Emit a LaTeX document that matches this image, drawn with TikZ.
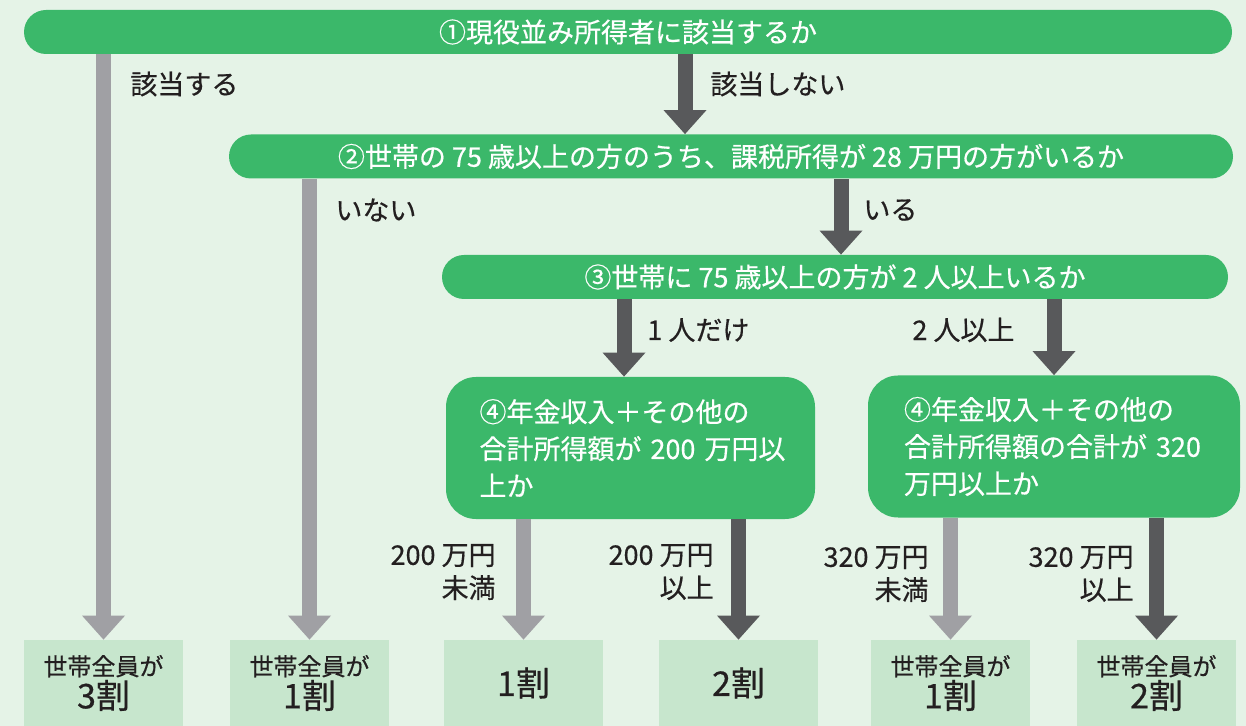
\documentclass[tikz,border=0pt]{standalone}
\usepackage{fontspec}
\setmainfont{Noto Sans CJK JP}[RawFeature={embolden=0.5}]
\usetikzlibrary{arrows.meta}
\definecolor{bg}{HTML}{E5F3E7}
\definecolor{barg}{HTML}{3BB86A}
\definecolor{resg}{HTML}{C7E6CD}
\definecolor{grayarr}{HTML}{A0A0A4}
\definecolor{darkarr}{HTML}{58595B}
\definecolor{ink}{HTML}{231F20}
\begin{document}
\begin{tikzpicture}[x=0.5pt,y=-0.5pt,
    font=\fontsize{13.5pt}{16.5pt}\selectfont, text=ink,
    bar/.style={fill=barg, text=white, rounded corners=11pt, minimum height=22pt, inner sep=0pt},
    qbox/.style={fill=barg, text=white, rounded corners=15pt, align=left, inner sep=0pt,
      minimum height=71pt, font=\fontsize{13.5pt}{18.5pt}\selectfont},
    res/.style={fill=resg, minimum width=79.5pt, minimum height=43pt, inner sep=0pt, align=center},
    lbl/.style={inner sep=0pt},
    garrow/.style={line width=7.5pt, draw=grayarr, -{Triangle[width=21.5pt,length=12pt,line width=0pt]}},
    darrow/.style={line width=7.5pt, draw=darkarr, -{Triangle[width=21.5pt,length=12pt,line width=0pt]}}]
  \useasboundingbox (0,0) rectangle (1246,726);
  \fill[bg] (0,0) rectangle (1246,726);
  % questions
  \node[bar, minimum width=604pt] (q1) at (628,32) {①現役並み所得者に該当するか};
  \node[bar, minimum width=502pt] (q2) at (731,156.5) {②世帯の 75 歳以上の方のうち、課税所得が 28 万円の方がいるか};
  \node[bar, minimum width=393pt] (q3) at (835,277) {③世帯に 75 歳以上の方が 2 人以上いるか};
  \node[qbox, minimum width=184.5pt, text width=151pt] (q4a) at (630.5,448) {④年金収入＋その他の\\合計所得額が~200~万円以\\上か};
  \node[qbox, minimum width=186pt, text width=150pt] (q4b) at (1054,446.5) {④年金収入＋その他の\\合計所得額の合計が~320\\万円以上か};
  % results
  \node[res] (r1) at (103.5,683) {{\fontsize{12pt}{16.5pt}\selectfont 世帯全員が}\\{\fontsize{17pt}{17pt}\selectfont 3割}};
  \node[res] (r2) at (309.5,683) {{\fontsize{12pt}{16.5pt}\selectfont 世帯全員が}\\{\fontsize{17pt}{17pt}\selectfont 1割}};
  \node[res] (r3) at (523.5,683) {\fontsize{17pt}{17pt}\selectfont 1割};
  \node[res] (r4) at (738.5,683) {\fontsize{17pt}{17pt}\selectfont 2割};
  \node[res] (r5) at (950.5,683) {{\fontsize{12pt}{16.5pt}\selectfont 世帯全員が}\\{\fontsize{17pt}{17pt}\selectfont 1割}};
  \node[res] (r6) at (1156.5,683) {{\fontsize{12pt}{16.5pt}\selectfont 世帯全員が}\\{\fontsize{17pt}{17pt}\selectfont 2割}};
  % labels
  \node[lbl, anchor=west] (l1) at (130,84) {該当する};
  \node[lbl, anchor=west] (l2) at (710,84) {該当しない};
  \node[lbl, anchor=west] (l3) at (335,210) {いない};
  \node[lbl, anchor=west] (l4) at (863,210) {いる};
  \node[lbl, anchor=west] (l5) at (647,330) {1 人だけ};
  \node[lbl, anchor=west] (l6) at (912,330) {2 人以上};
  \node[lbl, anchor=east, align=right] (l7) at (496,572) {200 万円\\未満};
  \node[lbl, anchor=east, align=right] (l8) at (714,572) {200 万円\\以上};
  \node[lbl, anchor=east, align=right] (l9) at (929,574) {320 万円\\未満};
  \node[lbl, anchor=east, align=right] (l10) at (1134,574) {320 万円\\以上};
  \coordinate (k1) at (685,0);
  \coordinate (k2) at (841,0);
  \coordinate (k3) at (624,0);
  \draw[garrow] (q1.south -| r1) -- (r1.north);
  \draw[darrow] (q1.south -| k1) -- (q2.north -| k1);
  \draw[garrow] (q2.south -| r2) -- (r2.north);
  \draw[darrow] (q2.south -| k2) -- (q3.north -| k2);
  \draw[darrow] (q3.south -| k3) -- (q4a.north -| k3);
  \draw[darrow] (q3.south -| q4b) -- (q4b.north);
  \draw[garrow] (q4a.south -| r3) -- (r3.north);
  \draw[darrow] (q4a.south -| r4) -- (r4.north);
  \draw[garrow] (q4b.south -| r5) -- (r5.north);
  \draw[darrow] (q4b.south -| r6) -- (r6.north);
\end{tikzpicture}
\end{document}
